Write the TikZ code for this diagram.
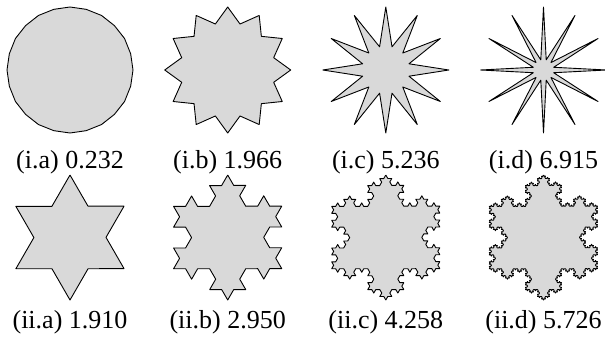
\documentclass[tikz,border=0pt]{standalone}
\usepackage{fontspec}
\setmainfont{Liberation Serif}
\usetikzlibrary{decorations.fractals}
\tikzset{
  shp/.style={draw=black, fill=black!15, line width=0.9pt, line join=round},
  lbl/.style={anchor=base, inner sep=0pt, font=\fontsize{26}{30}\selectfont}
}
\newcommand\mystar[4]{%
  \begin{scope}[shift={(#1,#2)}]
    \path[shp] (90:#3) \foreach \i in {1,...,23}{ -- ({90+15*\i}:{ifthenelse(mod(\i,2)==1,#4,#3)}) } -- cycle;
  \end{scope}}
\begin{document}
\begin{tikzpicture}[x=1pt,y=1pt]
\useasboundingbox (0,0) rectangle (605,341);
% top row
\mystar{70}{271}{63}{62.8}
\mystar{227.7}{271}{63}{47.6}
\mystar{385.8}{271}{63}{24}
\mystar{543.5}{271}{63}{10.5}
% bottom row: Koch snowflakes
\begin{scope}[shift={(70,103.5)}]
  \path[shp] decorate[decoration=Koch snowflake]{ (90:62.5) -- (-30:62.5) -- (210:62.5) -- (90:62.5) };
\end{scope}
\begin{scope}[shift={(227.7,103.5)}]
  \path[shp] decorate[decoration=Koch snowflake]{ decorate{ (90:62.5) -- (-30:62.5) -- (210:62.5) -- (90:62.5) }};
\end{scope}
\begin{scope}[shift={(385.8,103.5)}]
  \path[shp] decorate[decoration=Koch snowflake]{ decorate{ decorate{ (90:62.5) -- (-30:62.5) -- (210:62.5) -- (90:62.5) }}};
\end{scope}
\begin{scope}[shift={(543.5,103.5)}]
  \path[shp] decorate[decoration=Koch snowflake]{ decorate{ decorate{ decorate{ (90:62.5) -- (-30:62.5) -- (210:62.5) -- (90:62.5) }}}};
\end{scope}
% labels
\node[lbl] (la) at (70,173) {(i.a) 0.232};
\node[lbl] (lb) at (227.7,173) {(i.b) 1.966};
\node[lbl] (lc) at (385.8,173) {(i.c) 5.236};
\node[lbl] (ld) at (543.5,173) {(i.d) 6.915};
\node[lbl] (ma) at (70,13) {(ii.a) 1.910};
\node[lbl] (mb) at (227.7,13) {(ii.b) 2.950};
\node[lbl] (mc) at (385.8,13) {(ii.c) 4.258};
\node[lbl] (md) at (543.5,13) {(ii.d) 5.726};
\end{tikzpicture}
\end{document}
